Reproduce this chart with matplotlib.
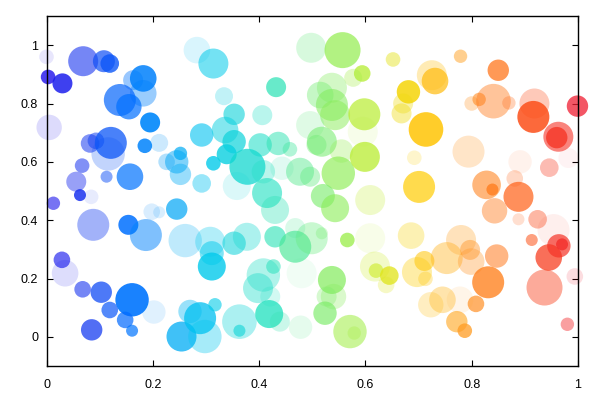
import numpy as np
import matplotlib
matplotlib.use("Agg")
import matplotlib.pyplot as plt
from matplotlib.colors import LinearSegmentedColormap

# bubble data
x = [0.000, 0.003, 0.030, 0.069, 0.108, 0.119, 0.163, 0.182, 0.182, 0.138,
     0.155, 0.195, 0.005, 0.082, 0.093, 0.121, 0.116, 0.185, 0.212, 0.067,
     0.056, 0.113, 0.157, 0.226, 0.245, 0.252, 0.252, 0.292, 0.314, 0.292,
     0.283, 0.314, 0.063, 0.084,
     0.334, 0.353, 0.406, 0.432, 0.498, 0.557, 0.594, 0.577, 0.537, 0.515,
     0.537, 0.543, 0.496, 0.598, 0.595, 0.336, 0.353, 0.339, 0.402, 0.436,
     0.458, 0.378, 0.408, 0.443, 0.477, 0.496, 0.518, 0.508, 0.555, 0.549,
     0.599, 0.415, 0.520, 0.609, 0.358, 0.652,
     0.681, 0.671, 0.668, 0.725, 0.731, 0.779, 0.714, 0.692, 0.701, 0.850,
     0.800, 0.814, 0.841, 0.870, 0.794, 0.918, 0.916, 0.963, 0.960, 0.999,
     0.891, 0.982, 0.946, 0.828, 0.839, 0.881, 0.888,
     0.013, 0.088, 0.154, 0.187, 0.198, 0.212, 0.245, 0.261, 0.308, 0.311,
     0.311, 0.029, 0.035, 0.068, 0.103, 0.119, 0.161, 0.148, 0.161, 0.202,
     0.085, 0.254, 0.270, 0.289, 0.298, 0.317,
     0.430, 0.543, 0.609, 0.566, 0.353, 0.377, 0.430, 0.468, 0.499, 0.468,
     0.518, 0.427, 0.408, 0.398, 0.421, 0.480, 0.537, 0.540, 0.527, 0.618,
     0.620, 0.645, 0.639, 0.363, 0.363, 0.419, 0.439, 0.478, 0.524, 0.571,
     0.579,
     0.843, 0.888, 0.924, 0.954, 0.913, 0.945, 0.964, 0.970, 0.994, 0.937,
     0.980, 0.686, 0.697, 0.711, 0.713, 0.753, 0.780, 0.797, 0.799, 0.847,
     0.831, 0.808, 0.723, 0.745, 0.778, 0.772, 0.787]

y = [0.960, 0.891, 0.869, 0.945, 0.945, 0.937, 0.880, 0.886, 0.835, 0.812,
     0.789, 0.735, 0.718, 0.663, 0.672, 0.665, 0.627, 0.655, 0.665, 0.587,
     0.532, 0.549, 0.549, 0.600, 0.600, 0.629, 0.557, 0.526, 0.595, 0.692,
     0.983, 0.937, 0.486, 0.480,
     0.825, 0.763, 0.760, 0.856, 0.991, 0.983, 0.903, 0.888, 0.854, 0.829,
     0.795, 0.760, 0.726, 0.763, 0.703, 0.709, 0.669, 0.626, 0.658, 0.663,
     0.643, 0.583, 0.566, 0.578, 0.566, 0.549, 0.669, 0.658, 0.637, 0.561,
     0.617, 0.493, 0.483, 0.469, 0.517, 0.951,
     0.840, 0.800, 0.766, 0.897, 0.877, 0.962, 0.711, 0.614, 0.514, 0.914,
     0.800, 0.814, 0.808, 0.802, 0.635, 0.800, 0.754, 0.686, 0.683, 0.791,
     0.600, 0.613, 0.580, 0.521, 0.505, 0.543, 0.480,
     0.458, 0.384, 0.384, 0.349, 0.429, 0.427, 0.438, 0.330, 0.326, 0.287,
     0.241, 0.264, 0.218, 0.163, 0.153, 0.092, 0.127, 0.058, 0.021, 0.085,
     0.024, 0.001, 0.087, 0.064, 0.001, 0.110,
     0.435, 0.441, 0.338, 0.332, 0.321, 0.343, 0.343, 0.309, 0.338, 0.373,
     0.355, 0.241, 0.212, 0.167, 0.138, 0.218, 0.195, 0.138, 0.138, 0.241,
     0.227, 0.210, 0.178, 0.052, 0.021, 0.078, 0.052, 0.033, 0.081, 0.018,
     0.013,
     0.432, 0.403, 0.403, 0.366, 0.332, 0.272, 0.312, 0.317, 0.207, 0.169,
     0.043, 0.347, 0.222, 0.260, 0.199, 0.270, 0.332, 0.298, 0.258, 0.277,
     0.187, 0.113, 0.110, 0.127, 0.127, 0.052, 0.021]

radius = [7.3, 7.3, 10, 15, 11, 9.3, 10, 13.3, 13.3, 16,
          12.7, 10, 12.7, 9.3, 8.3, 16, 16.7, 7.3, 9, 7.3,
          10, 6, 13.3, 8.3, 11.7, 6.7, 10.7, 9.3, 7.3, 11.7,
          13.3, 15, 6, 7.3,
          9, 10.7, 10, 10, 15, 18, 8.3, 9, 15, 13.3,
          16, 15, 14, 16, 15, 13.3, 11.7, 10, 11.7, 11.7,
          7.3, 18, 11.7, 11.7, 14, 10, 15, 10, 11.7, 16.7,
          15, 15, 12, 15, 14, 7.3,
          11.7, 10, 10, 15, 13.3, 6.7, 17.3, 7.3, 16, 10.7,
          7.3, 6.7, 17.3, 6.7, 16, 15, 16, 15, 10.7, 10.7,
          11.7, 10, 9.3, 14.3, 6, 8.3, 15,
          6.7, 16, 10, 16, 8.3, 6, 10.7, 16.7, 15, 12,
          14, 8.3, 13.3, 8.3, 10.7, 8.3, 16.7, 8.3, 6, 11.7,
          10.7, 15, 11.7, 16, 16.7, 6.7,
          14, 14, 15, 7.3, 11.7, 14, 10.7, 16, 16, 10,
          6, 7.3, 16.7, 15, 10, 15, 14, 12.7, 10, 15,
          7.3, 9.3, 8.3, 17.3, 6, 14, 10, 11.7, 11.7, 16.7,
          6.7,
          12.7, 6, 9.3, 16, 6, 13.3, 11.7, 6, 8.3, 18,
          6.7, 13.3, 15, 10, 7.3, 16, 15, 10, 13.3, 11.7,
          16, 8.3, 12.7, 13.3, 13.3, 10.7, 7.3]

opacity = [0.1, 0.8, 0.85, 0.6, 0.7, 0.8, 0.4, 0.85, 0.4, 0.7,
           0.7, 0.9, 0.15, 0.55, 0.55, 0.75, 0.25, 0.85, 0.2, 0.55,
           0.45, 0.5, 0.7, 0.3, 0.5, 0.7, 0.4, 0.4, 0.8, 0.6,
           0.15, 0.55, 0.85, 0.1,
           0.25, 0.6, 0.3, 0.7, 0.25, 0.7, 0.75, 0.3, 0.35, 0.4,
           0.55, 0.5, 0.2, 0.7, 0.1, 0.5, 0.7, 0.8, 0.55, 0.5,
           0.4, 0.75, 0.3, 0.15, 0.45, 0.4, 0.55, 0.4, 0.3, 0.65,
           0.75, 0.6, 0.6, 0.25, 0.15, 0.45,
           0.85, 0.35, 0.4, 0.3, 0.7, 0.5, 0.85, 0.2, 0.7, 0.75,
           0.3, 0.6, 0.45, 0.3, 0.25, 0.3, 0.85, 0.6, 0.8, 0.75,
           0.08, 0.05, 0.35, 0.6, 0.8, 0.25, 0.7,
           0.6, 0.4, 0.85, 0.5, 0.15, 0.15, 0.7, 0.25, 0.3, 0.5,
           0.8, 0.65, 0.15, 0.6, 0.75, 0.7, 0.9, 0.7, 0.7, 0.12,
           0.75, 0.75, 0.4, 0.75, 0.35, 0.6,
           0.35, 0.6, 0.1, 0.75, 0.55, 0.35, 0.6, 0.65, 0.35, 0.2,
           0.3, 0.5, 0.35, 0.4, 0.2, 0.08, 0.7, 0.3, 0.3, 0.25,
           0.6, 0.75, 0.25, 0.35, 0.6, 0.75, 0.25, 0.15, 0.65, 0.55,
           0.3,
           0.45, 0.2, 0.4, 0.08, 0.55, 0.75, 0.7, 0.8, 0.15, 0.45,
           0.45, 0.3, 0.35, 0.55, 0.3, 0.4, 0.3, 0.45, 0.35, 0.55,
           0.8, 0.7, 0.25, 0.35, 0.1, 0.6, 0.75]

ticks = [0, 0.2, 0.4, 0.6, 0.8, 1]
tick_labels = ["0", "0.2", "0.4", "0.6", "0.8", "1"]

# colour scale blue -> cyan -> green -> yellow -> red along x
stops = [(0.00, (30, 15, 235)), (0.08, (25, 60, 240)), (0.15, (0, 110, 255)),
         (0.30, (0, 200, 240)), (0.42, (30, 225, 190)), (0.50, (100, 235, 120)),
         (0.58, (165, 238, 60)), (0.63, (215, 235, 30)), (0.70, (255, 205, 0)),
         (0.80, (255, 150, 40)), (0.90, (255, 90, 20)), (1.00, (240, 30, 50))]
cmap = LinearSegmentedColormap.from_list(
    "bubbles", [(p, tuple(c / 255 for c in rgb)) for p, rgb in stops])

dpi = 100
fig = plt.figure(figsize=(5.99, 3.98), dpi=dpi)
ax = fig.add_axes([46.5 / 599, 1 - 366 / 398, (578 - 46.5) / 599, (366 - 16) / 398])

cols = cmap(np.array(x))
cols[:, 3] = opacity
sizes = (2 * np.array(radius) * 72 / dpi) ** 2
ax.scatter(x, y, s=sizes, c=cols, edgecolors="none", clip_on=False, zorder=3)

ax.set_xlim(0, 1)
ax.set_ylim(-0.1, 1.1)
ax.set_xticks(ticks)
ax.set_xticklabels(tick_labels)
ax.set_yticks(ticks)
ax.set_yticklabels(tick_labels)
ax.tick_params(direction="in", length=4.3, width=0.8, top=True, right=True,
               labelsize=9, colors="black")
ax.tick_params(axis="x", pad=9.5)
ax.tick_params(axis="y", pad=6)
for lab in ax.get_xticklabels() + ax.get_yticklabels():
    lab.set_family("Liberation Sans")
for sp in ax.spines.values():
    sp.set_linewidth(1.0)
    sp.set_zorder(4)

plt.savefig("out.png", dpi=dpi)
